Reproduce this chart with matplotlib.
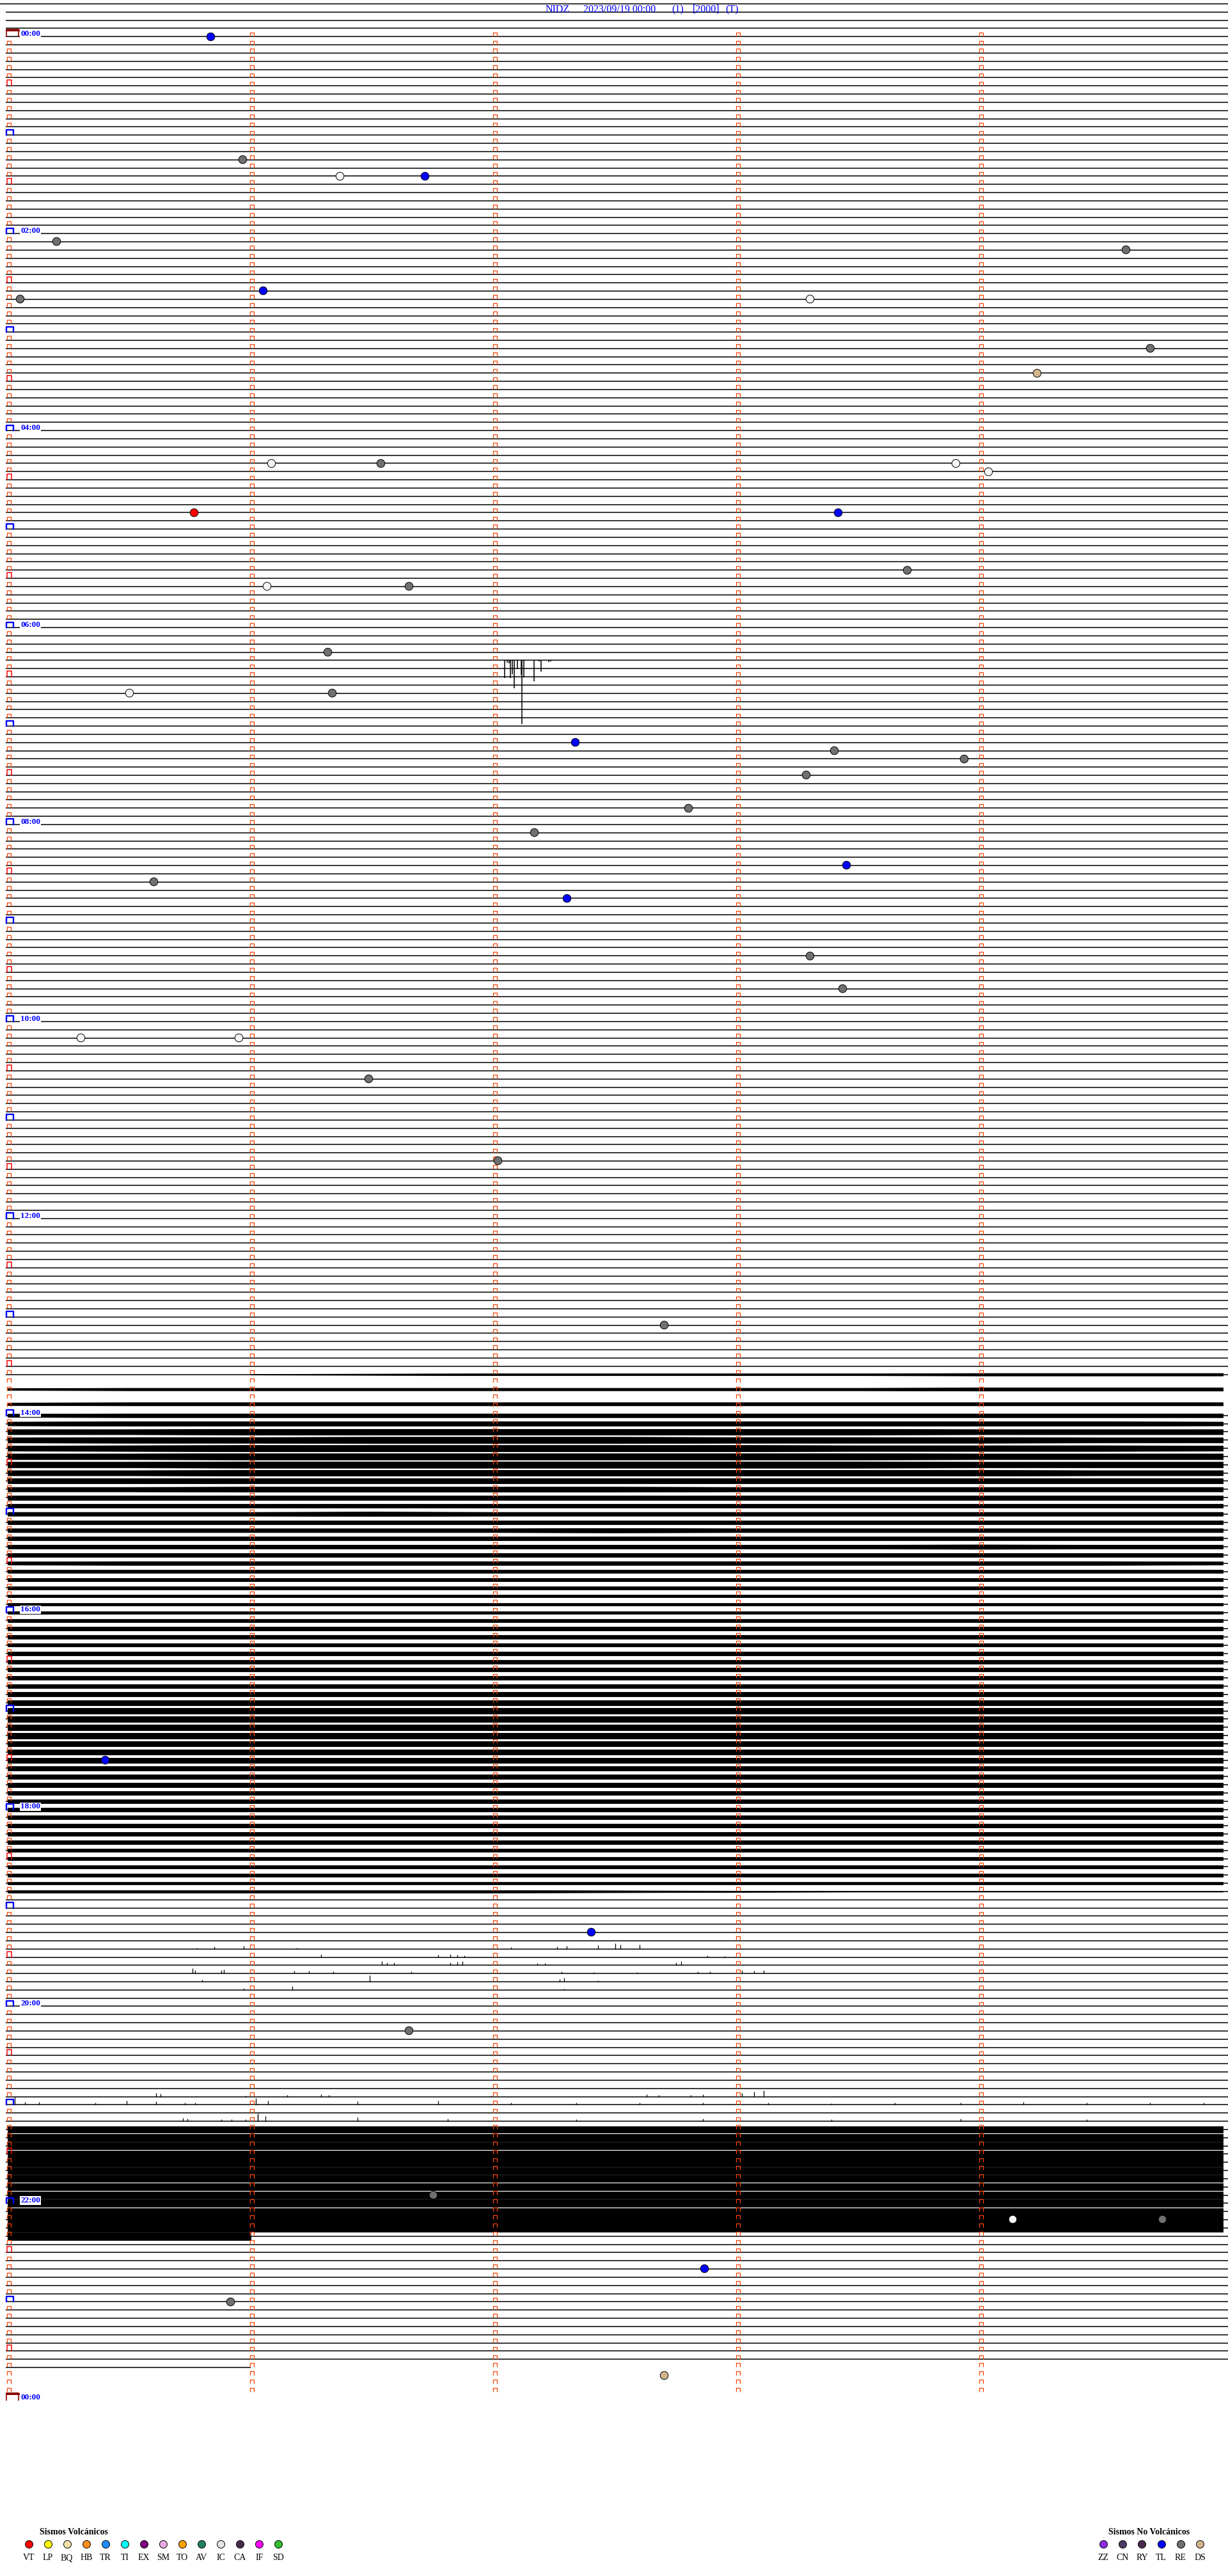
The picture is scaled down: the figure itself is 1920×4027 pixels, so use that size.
import numpy as np
import matplotlib
matplotlib.use('Agg')
import matplotlib.pyplot as plt
from matplotlib.path import Path

# ------------------------------------------------------------------ data
title_parts = ['NIDZ', '2023/09/19 00:00', '(1)', '[2000]', '(T)']
title_x_px = [853, 912, 1050, 1083, 1134]
minutes_per_row = 5
rows_per_hour = 12
n_rows = 288
pre_rows = [-4, -3, -2, -1]
data_end = '23:41:00'
hour_labels = ['00:00', '02:00', '04:00', '06:00', '08:00', '10:00', '12:00',
               '14:00', '16:00', '18:00', '20:00', '22:00', '00:00']

event_times = ['00:00:50', '01:15:58', '01:26:22', '01:26:43', '02:05:12', '02:14:36',
               '02:40:03', '02:36:03', '02:43:18', '03:14:42', '03:29:14', '04:21:05',
               '04:21:32', '04:23:54', '04:29:02', '04:50:46', '04:53:25', '05:28:42',
               '05:36:04', '05:36:39', '06:16:19', '06:40:30', '06:41:20', '07:12:20',
               '07:18:24', '07:23:56', '07:33:17', '07:52:48', '08:07:10', '08:28:27',
               '08:35:36', '08:47:18', '09:23:18', '09:43:26', '10:10:18', '10:10:57',
               '10:36:29', '11:27:01', '13:07:42', '17:30:24', '19:17:24', '20:16:39',
               '21:56:45', '22:14:08', '22:14:45', '22:42:52', '23:00:55', '23:47:42']
event_types = ['TL', 'RE', 'IC', 'TL', 'RE', 'RE',
               'RE', 'TL', 'IC', 'RE', 'DS', 'IC',
               'RE', 'IC', 'IC', 'VT', 'TL', 'RE',
               'IC', 'RE', 'RE', 'IC', 'RE', 'TL',
               'RE', 'RE', 'RE', 'RE', 'RE', 'TL',
               'RE', 'TL', 'RE', 'RE', 'IC', 'IC',
               'RE', 'RE', 'RE', 'TL', 'TL', 'RE',
               'RE', 'IC', 'RE', 'TL', 'RE', 'DS']

volc_codes = ['VT', 'LP', 'BQ', 'HB', 'TR', 'TI', 'EX', 'SM', 'TO', 'AV', 'IC', 'CA', 'IF', 'SD']
volc_colors = ['#ff0000', '#ffff00', '#f2e2a8', '#ff8c1a', '#1e8cff', '#00ffff', '#800080',
               '#e8a8e0', '#ffa000', '#228060', '#e4e4e4', '#4a2a48', '#ff00ff', '#30c030']
novolc_codes = ['ZZ', 'CN', 'RY', 'TL', 'RE', 'DS']
novolc_colors = ['#8a2be2', '#4e3a62', '#4a2a4e', '#0000ff', '#707070', '#d2b48c']

# big transient at 06:20 row (spikes hanging below the trace)
burst_row = 76
burst_min = [2.045, 2.055, 2.063, 2.068, 2.076, 2.084, 2.097, 2.113, 2.117, 2.124,
             2.166, 2.187, 2.195, 2.225, 2.234]
burst_depth = [28, 4, 5, 28, 22, 44, 14, 23, 100, 27, 33, 2, 18, 3, 2]

# continuous noisy traces (row position, half thickness in px at noise_x minutes)
noise_x = [0.0, 0.5, 1.0, 1.5, 2.0, 2.5, 3.0, 3.5, 4.0, 4.5, 5.0]
noise_rows = [163, 164.8, 166.6, 168, 169, 170, 171, 172, 173, 174, 175, 176, 177, 178, 179,
              180, 181, 182, 183, 184, 185, 186, 187, 188, 189, 190, 191, 192, 193, 194,
              195, 196, 197, 198, 199, 200, 201, 202, 203, 204, 205, 206, 207, 208, 209,
              210, 211, 212, 213, 214, 215, 216, 217, 218, 219, 220, 221, 222, 223, 224,
              225, 226,
              255, 256, 257, 258, 259, 260, 261, 262, 263, 264, 265, 266, 267, 268]
noise_amp = [
    [0, 0, 0.5, 1, 1.5, 1.5, 1.5, 1.5, 2, 2, 2],
    [1.5, 2, 2, 2, 2, 2, 2, 2, 2.5, 2.5, 2.5],
    [2, 2.5, 2.5, 2.5, 2.5, 2.5, 2.5, 2.5, 2.5, 2.5, 2.5],
    [2.5, 3, 3, 3, 3, 3, 3, 3, 3, 3, 3],
    [3, 3.5, 3.5, 3.5, 3.5, 3.5, 3.5, 3.5, 3.5, 3.5, 3],
    [4, 4, 4.5, 4.5, 4.5, 4.5, 4.5, 4.5, 4, 4, 4],
    [4, 4.5, 4.5, 5, 5, 5, 4.5, 4.5, 4.5, 4, 4],
    [4, 4.5, 5, 5, 5, 5, 5, 4.5, 4.5, 4.5, 4],
    [4.5, 4.5, 5, 5, 5, 5, 5, 5, 4.5, 4.5, 4.5],
    [4.5, 4.5, 5, 5, 5, 5, 5, 5, 4.5, 4.5, 4.5],
    [4, 4, 4.5, 4.5, 4.5, 4.5, 4.5, 4.5, 4.5, 4, 4],
    [4, 4, 4, 4, 4, 4, 4, 4, 4, 4, 4],
    [3.5, 3.5, 4, 4, 4, 4, 3.5, 3.5, 3.5, 3.5, 3.5],
    [3.5, 3.5, 3.5, 3.5, 3.5, 3.5, 3.5, 3.5, 3.5, 3.5, 3.5],
    [3, 3, 3, 3, 3, 3, 3, 3, 3, 3, 3],
    [3, 3, 3, 3.5, 3, 3, 3, 3, 3, 3, 3],
    [3, 3, 3, 3, 3, 3, 3, 3, 3, 3, 3],
    [3, 3, 3, 3, 3, 3.5, 3, 3, 3, 3, 3],
    [3, 3, 3, 3, 3, 3, 3, 3, 3, 3, 3],
    [3, 3, 3, 3, 3, 3, 3, 3, 3.5, 3, 3],
    [3, 3, 3, 3, 3, 3, 3, 3, 3, 3, 3],
    [2.5, 3, 3, 3, 3, 3, 3, 3, 3, 3, 2.5],
    [2.5, 2.5, 2.5, 2.5, 2.5, 2.5, 2.5, 2.5, 2.5, 2.5, 2.5],
    [2.5, 2.5, 2.5, 2.5, 2.5, 2.5, 2.5, 2.5, 2.5, 2.5, 2.5],
    [2.5, 2.5, 2.5, 2.5, 2.5, 2.5, 2.5, 2.5, 2.5, 2.5, 2.5],
    [2, 2, 2, 2, 2, 2, 2, 2, 2, 2, 2],
    [2, 2, 2, 2, 2, 2, 2, 2, 2, 2, 2],
    [2, 2, 2, 2, 2, 2, 2, 2, 2, 2, 2],
    [2.5, 2.5, 2.5, 2.5, 2.5, 2.5, 2.5, 2.5, 2.5, 2.5, 2.5],
    [3, 3, 3, 3, 3, 3, 3, 3, 3, 3, 3],
    [3, 3, 3, 3, 3, 3, 3, 3, 3, 3, 3],
    [2.5, 2.5, 2.5, 2.5, 2.5, 2.5, 2.5, 2.5, 2.5, 2.5, 2.5],
    [3, 3, 3, 3, 3, 3, 3, 3, 3, 3, 3],
    [3, 3, 3, 3, 3, 3, 3, 3, 3, 3, 3],
    [3, 3, 3, 3, 3, 3, 3, 3, 3, 3, 3],
    [3, 3, 3, 3, 3, 3, 3, 3, 3, 3, 3],
    [3, 3, 3, 3, 3, 3, 3, 3, 3, 3, 3],
    [3.5, 3.5, 3.5, 3.5, 3.5, 3.5, 3.5, 3.5, 3.5, 3.5, 3.5],
    [4, 4, 4, 4, 4, 4, 4, 4, 4, 4, 4],
    [4.5, 4.5, 4.5, 4.5, 4.5, 4.5, 4.5, 4.5, 4.5, 4.5, 4.5],
    [4.5, 4.5, 4.5, 4.5, 4.5, 4.5, 4.5, 4.5, 4.5, 4.5, 4.5],
    [4.5, 4.5, 4.5, 4.5, 4.5, 4.5, 4.5, 4.5, 4.5, 4.5, 4.5],
    [4.5, 4.5, 4.5, 4.5, 4.5, 4.5, 4.5, 4.5, 4.5, 4.5, 4.5],
    [4, 4, 4, 4, 4, 4, 4, 4, 4, 4, 4],
    [4, 4, 4, 4, 4, 4, 4, 4, 4, 4, 4],
    [4, 4, 4, 4, 4, 4, 4, 4, 4, 4, 4],
    [3.5, 3.5, 3.5, 3.5, 3.5, 3.5, 3.5, 3.5, 3.5, 3.5, 3.5],
    [3.5, 3.5, 3.5, 3.5, 3.5, 3.5, 3.5, 3.5, 3.5, 3.5, 3.5],
    [3.5, 3.5, 3.5, 3.5, 3.5, 3.5, 3.5, 3.5, 3.5, 3.5, 3.5],
    [3, 3, 3, 3, 3, 3, 3, 3, 3, 3, 3],
    [3, 3, 3, 3, 3, 3, 3, 3, 3, 3, 3],
    [3, 3, 3, 3, 3, 3, 3, 3, 3, 3, 3],
    [3, 3, 3, 3, 3, 3, 3, 3, 3, 3, 3],
    [3, 3, 3, 3, 3, 3, 3, 3, 3, 3, 3],
    [3, 3, 3, 3, 3, 3, 3, 3, 3, 3, 3],
    [3, 3, 3, 3, 3, 3, 3, 3, 3, 3, 3],
    [2.5, 2.5, 2.5, 2.5, 2.5, 2.5, 2.5, 2.5, 2.5, 2.5, 2.5],
    [2.5, 2.5, 2.5, 2.5, 2.5, 2.5, 2.5, 2.5, 2.5, 2.5, 2.5],
    [2.5, 2.5, 2.5, 2.5, 2.5, 2.5, 2.5, 2.5, 2.5, 2.5, 2.5],
    [2.5, 2.5, 2.5, 2.5, 2.5, 2.5, 2.5, 2.5, 2.5, 2.5, 2.5],
    [2, 2, 2, 2, 2, 2, 2, 2, 2, 2, 2],
    [2, 2, 2, 2, 2, 1.5, 1, 0.5, 0.5, 0.5, 0.5],
    # night burst 21:15 - 22:20
    [5, 5, 5, 5, 5, 5, 5, 5, 5, 5, 5],
    [6, 6, 6, 6, 6, 6, 6, 6, 6, 6, 6],
    [5.5, 5.5, 5.5, 5.5, 5.5, 5.5, 5.5, 5.5, 5.5, 5.5, 5.5],
    [5.5, 5.5, 5.5, 5.5, 5.5, 5.5, 5.5, 5.5, 5.5, 5.5, 5.5],
    [7, 7, 7, 7, 7, 7, 7, 7, 7, 7, 7],
    [5.5, 5.5, 5.5, 5.5, 5.5, 5.5, 5.5, 5.5, 5.5, 5.5, 5.5],
    [5.5, 5.5, 5.5, 5.5, 5.5, 5.5, 5.5, 5.5, 5.5, 5.5, 5.5],
    [5.5, 5.5, 5.5, 5.5, 5.5, 5.5, 5.5, 5.5, 5.5, 5.5, 5.5],
    [5.5, 5.5, 5.5, 5.5, 5.5, 5.5, 5.5, 5.5, 5.5, 5.5, 5.5],
    [6, 6, 6, 6, 6, 6, 6, 6, 6, 6, 6],
    [5.5, 5.5, 5.5, 5.5, 5.5, 5.5, 5.5, 5.5, 5.5, 5.5, 5.5],
    [7, 7, 7, 7, 7, 7, 7, 7, 7, 7, 7],
    [6, 6, 6, 6, 6, 6, 6, 6, 6, 6, 6],
    [6, 6, 6, 0, 0, 0, 0, 0, 0, 0, 0],
]
no_flat_rows = [164, 165, 166, 167]

# isolated small spikes (minutes within the row, height in px above the trace)
spike_rows = [233, 234, 235, 236, 237, 238, 251, 252, 254]
spike_min = [
    [0.78, 0.85, 0.97, 1.19, 2.07, 2.26, 2.30, 2.43, 2.50, 2.52, 2.60],
    [1.29, 1.77, 1.82, 1.85, 1.88, 2.88, 2.95],
    [1.54, 1.56, 1.59, 1.82, 1.85, 1.87, 2.18, 2.21, 2.75, 2.77],
    [0.76, 0.77, 0.88, 0.89, 1.18, 1.24, 1.34, 1.66, 2.28, 2.41, 2.59, 2.84, 2.89, 3.02, 3.07, 3.11],
    [0.80, 1.49, 2.27, 2.29, 2.43],
    [0.97, 1.17, 2.29],
    [0.61, 0.63, 0.98, 1.15, 1.29, 1.32, 1.99, 2.63, 2.68, 2.81, 2.86, 3.02, 3.07, 3.11],
    [0.03, 0.07, 0.13, 0.36, 0.49, 0.61, 0.73, 0.77, 1.02, 1.07, 1.44, 1.77, 2.07, 2.34,
     2.60, 2.86, 3.13, 3.39, 3.65, 3.92, 4.18, 4.44, 4.70, 4.92],
    [0.72, 0.74, 0.88, 0.92, 0.98, 1.03, 1.03, 1.06, 1.44, 1.81, 2.34, 2.86, 3.39, 3.92, 4.44],
]
spike_h = [
    [2, 4, 5, 2, 3, 4, 5, 6, 9, 7, 7],
    [5, 4, 5, 4, 3, 3, 2],
    [6, 4, 4, 4, 5, 6, 3, 3, 4, 6],
    [8, 5, 5, 6, 4, 4, 3, 3, 3, 2, 2, 3, 3, 5, 4, 5],
    [3, 10, 4, 6, 2],
    [3, 6, 2],
    [6, 5, 2, 3, 4, 3, 2, 4, 3, 3, 4, 6, 8, 10],
    [12, 4, 4, 3, 6, 5, 3, 3, 10, 6, 5, 6, 3, 3, 3, 3, 3, 2, 3, 3, 4, 3, 3, 3],
    [5, 4, 3, 3, 3, 12, 10, 8, 6, 4, 3, 4, 3, 4, 3],
]

# ------------------------------------------------------------------ geometry
W, H = 1920, 4027
ROW0_PX, ROW_PX = 57.3, 12.83
X0_PX, MIN_PX = 12.0, 380.0


def px2min(px):
    return (px - X0_PX) / MIN_PX


def px2row(py):
    return (py - ROW0_PX) / ROW_PX


def hms(t):
    h, m, s = [int(v) for v in t.split(':')]
    return h * 60 + m + s / 60.0


SERIF = ['Liberation Serif', 'DejaVu Serif']
plt.rcParams['font.family'] = SERIF

fig = plt.figure(figsize=(W / 100, H / 100), dpi=100)
fig.patch.set_facecolor('white')
ax = fig.add_axes([0, 0, 1, 1])
ax.set_xlim(px2min(0), px2min(W))
ax.set_ylim(px2row(H), px2row(0))
ax.axis('off')

LW = 1.1  # pt for trace lines
dx = 1.0 / MIN_PX
dy = 1.0 / ROW_PX

# ---------------- flat traces
end_min = hms(data_end)
last_row = int(end_min // minutes_per_row)
full_rows = [r for r in pre_rows + list(range(0, last_row)) if r not in no_flat_rows]
x_start = [px2min(0) if r == pre_rows[0] else px2min(9) for r in full_rows]
ax.hlines(full_rows, x_start, px2min(W), color='black', lw=LW, zorder=2)
ax.hlines([last_row], px2min(9), end_min - last_row * minutes_per_row, color='black', lw=LW, zorder=2)

# ---------------- minute markers (open boxes above each trace)
mk = Path([(-1, -1), (-1, 1), (1, 1), (1, -1)],
          [Path.MOVETO, Path.LINETO, Path.LINETO, Path.LINETO])
mx, my = [], []
for r in range(n_rows):
    for m in range(minutes_per_row):
        if m == 0 and r % 6 == 0:
            continue
        mx.append(m + 1.5 * dx)
        my.append(r - 3.6 * dy)
ax.plot(mx, my, ls='none', marker=mk, markersize=4.4, mec='#ff4000', mfc='none',
        mew=0.9, zorder=3)

# special boxes on the first column
for r in range(n_rows + 1):
    if r % (rows_per_hour * 24) == 0:
        x1, x2 = px2min(10), px2min(29)
        ax.plot([x1, x1, x2, x2], [r, r - 11 * dy, r - 11 * dy, r], color='#8b0000', lw=1.2, zorder=4)
        ax.plot([x1, x2], [r - 10.5 * dy, r - 10.5 * dy], color='#8b0000', lw=2.2, zorder=4)
    elif r % rows_per_hour == 0:
        x1, x2 = px2min(10), px2min(20.5)
        ax.plot([x1, x1, x2, x2], [r, r - 8.5 * dy, r - 8.5 * dy, r], color='#0000ff', lw=1.7, zorder=4)
    elif r % 6 == 0:
        x1, x2 = px2min(10.5), px2min(18)
        ax.plot([x1, x1, x2, x2], [r, r - 9 * dy, r - 9 * dy, r], color='#ff0000', lw=1.1, zorder=4)

# hour labels every two hours
for i, lab in enumerate(hour_labels):
    r = i * 2 * rows_per_hour
    ax.text(px2min(32), r - 1.2 * dy, lab, color='#0000ff', fontsize=9.5, fontweight='bold',
            ha='left', va='baseline', zorder=6,
            bbox=dict(facecolor='white', edgecolor='none', pad=0.6))

# ---------------- noisy traces
nx = np.array(noise_x)
for r, amp in zip(noise_rows, noise_amp):
    a = np.array(amp, dtype=float) * dy
    ax.fill_between(nx, r - a, r + a, where=a > 0, interpolate=False, color='black', lw=0.6, zorder=2)

# isolated spikes
for r, xs, hs in zip(spike_rows, spike_min, spike_h):
    ax.vlines(xs, [r] * len(xs), [r - h * dy for h in hs], color='black', lw=0.9, zorder=2)

# transient burst at 06:20
ax.vlines(burst_min, [burst_row] * len(burst_min), [burst_row + d * dy for d in burst_depth],
          color='black', lw=1.1, zorder=2)

# ---------------- event dots
type_colors = dict(zip(volc_codes + novolc_codes, volc_colors + novolc_colors))
type_colors['IC'] = '#f4f4f4'
for t, c in zip(event_times, event_types):
    mins = hms(t)
    r = int(mins // minutes_per_row)
    m = mins - r * minutes_per_row
    ax.plot([m], [r - 0.05], marker='o', ls='none', markersize=9.0, mfc=type_colors[c],
            mec='black', mew=0.7, zorder=5)

# ---------------- title
for s, xp in zip(title_parts, title_x_px):
    fig.text(xp / W, 1 - 19 / H, s, color='#0000ff', fontsize=11.5, ha='left', va='baseline')

# ---------------- legends
lx = [44.6 + 30.05 * i for i in range(len(volc_codes))]
fig.text(62 / W, 1 - 3962 / H, 'Sismos Volcánicos', fontsize=10, fontweight='bold',
         ha='left', va='baseline')
for x, code, col in zip(lx, volc_codes, volc_colors):
    fig.lines.append(matplotlib.lines.Line2D([x / W], [1 - 3977 / H], marker='o', ls='none',
                                             markersize=8.6, mfc=col, mec='black', mew=0.7,
                                             transform=fig.transFigure, figure=fig))
    fig.text(x / W, 1 - 4002 / H, code, fontsize=10, ha='center', va='baseline')

rx = [1725 + 30.2 * i for i in range(len(novolc_codes))]
fig.text(1733 / W, 1 - 3962 / H, 'Sismos No Volcánicos', fontsize=10, fontweight='bold',
         ha='left', va='baseline')
for x, code, col in zip(rx, novolc_codes, novolc_colors):
    fig.lines.append(matplotlib.lines.Line2D([x / W], [1 - 3977 / H], marker='o', ls='none',
                                             markersize=8.6, mfc=col, mec='black', mew=0.7,
                                             transform=fig.transFigure, figure=fig))
    fig.text(x / W, 1 - 4002 / H, code, fontsize=10, ha='center', va='baseline')

fig.savefig('out.png', dpi=100, facecolor='white')
